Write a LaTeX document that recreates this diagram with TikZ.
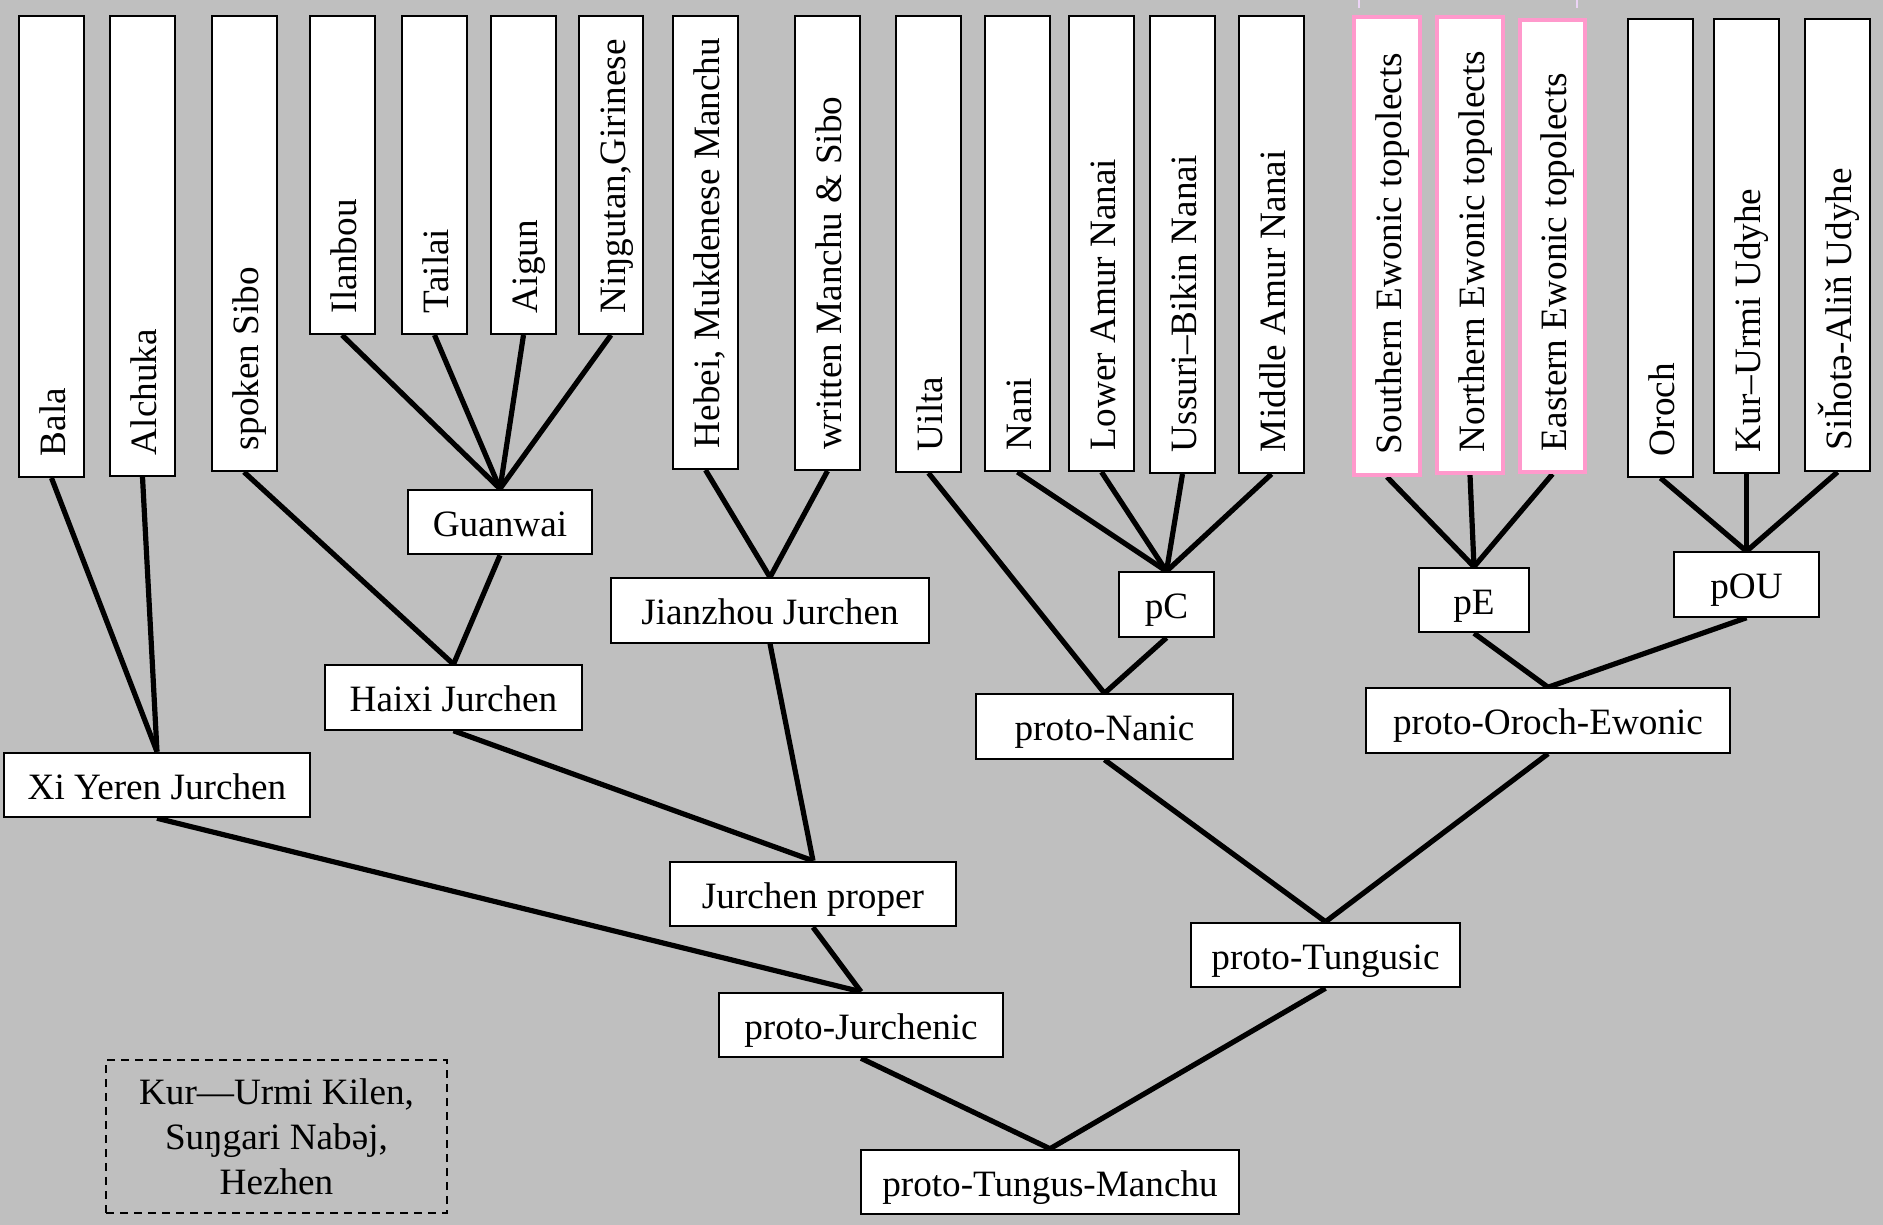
\documentclass[tikz,border=0pt]{standalone}
\usepackage{fontspec}
\setmainfont{Liberation Serif}
\usetikzlibrary{backgrounds}
\definecolor{bggray}{RGB}{191,191,191}
\definecolor{pinkb}{RGB}{255,153,204}
\definecolor{lav}{RGB}{236,212,246}
\begin{document}
\begin{tikzpicture}[x=0.5pt,y=-0.5pt,
  lbl/.style={font=\fontsize{18.6pt}{22.5pt}\selectfont},
  boxbase/.style={lbl, draw=black, line width=1pt, fill=white, inner sep=0pt,
    text height=17.4pt, text depth=3pt},
  hbox/.style={boxbase, minimum height=32.25pt},
  vbox/.style={boxbase, rotate=90, inner xsep=10.5pt, minimum height=32.5pt},
  pbox/.style={vbox, draw=pinkb, line width=2pt},
  link/.style={line width=2.6pt, black},
  legendbox/.style={lbl, draw=black, line width=1pt, dash pattern=on 4pt off 3pt,
    align=center, inner sep=0pt}
]
\useasboundingbox (0,0) rectangle (1883,1225);

% top row (rotated)
\node[vbox, minimum width=230.5pt] (bala)     at (51.5,246.5)  {\makebox[209.5pt][l]{Bala}};
\node[vbox, minimum width=230pt]   (alchuka)  at (142.5,246)   {\makebox[209pt][l]{Alchuka}};
\node[vbox, minimum width=227.5pt] (ssibo)    at (244,243.5)   {\makebox[206.5pt][l]{spoken Sibo}};
\node[vbox, minimum width=159pt]   (ilanbou)  at (342,175)     {\makebox[138pt][l]{Ilanbou}};
\node[vbox, minimum width=159pt]   (tailai)   at (434.5,175)   {\makebox[138pt][l]{Tailai}};
\node[vbox, minimum width=159pt]   (aigun)    at (523.5,175)   {\makebox[138pt][l]{Aigun}};
\node[vbox, minimum width=159pt, minimum height=32pt] (ningutan) at (611,175) {\makebox[138pt][l]{Niŋgutan,Girinese}};
\node[vbox, minimum width=226.5pt] (hebei)    at (705.5,242.5) {\makebox[205.5pt][l]{Hebei, Mukdenese Manchu}};
\node[vbox, minimum width=227pt]   (written)  at (827.5,243)   {\makebox[206pt][l]{written Manchu \& Sibo}};
\node[vbox, minimum width=228pt]   (uilta)    at (928.5,244)   {\makebox[207pt][l]{Uilta}};
\node[vbox, minimum width=227.5pt] (nani)     at (1017.5,243.5){\makebox[206.5pt][l]{Nani}};
\node[vbox, minimum width=227.5pt] (lamur)    at (1101.5,243.5){\makebox[206.5pt][l]{Lower Amur Nanai}};
\node[vbox, minimum width=228.5pt] (ussuri)   at (1182.5,244.5){\makebox[207.5pt][l]{Ussuri–Bikin Nanai}};
\node[vbox, minimum width=228.5pt] (mamur)    at (1271.5,244.5){\makebox[207.5pt][l]{Middle Amur Nanai}};
\node[pbox, minimum width=229pt, minimum height=33pt] (south) at (1387,246) {\makebox[208pt][l]{Southern Ewonic topolects}};
\node[pbox, minimum width=228pt, minimum height=33pt] (north) at (1470,245) {\makebox[207pt][l]{Northern Ewonic topolects}};
\node[pbox, minimum width=226pt]   (east)     at (1552.5,246)  {\makebox[205pt][l]{Eastern Ewonic topolects}};
\node[vbox, minimum width=229pt]   (oroch)    at (1660.5,248)  {\makebox[208pt][l]{Oroch}};
\node[vbox, minimum width=227pt]   (kur)      at (1746.5,246)  {\makebox[206pt][l]{Kur–Urmi Udyhe}};
\node[vbox, minimum width=226pt]   (siho)     at (1837.5,245)  {\makebox[205pt][l]{Siȟotə-Aliň Udyhe}};

% horizontal nodes
\node[hbox, minimum width=92pt]    (guanwai)  at (500,522)      {Guanwai};
\node[hbox, minimum width=128.5pt] (haixi)    at (453.5,697.5)  {Haixi Jurchen};
\node[hbox, minimum width=153pt]   (xiyeren)  at (157,785)      {Xi Yeren Jurchen};
\node[hbox, minimum width=159pt]   (jianzhou) at (770,610.5)    {Jianzhou Jurchen};
\node[hbox, minimum width=143pt]   (jproper)  at (813,894)      {Jurchen proper};
\node[hbox, minimum width=142pt]   (pjur)     at (861,1025)     {proto-Jurchenic};
\node[hbox, minimum width=189pt]   (ptm)      at (1050,1182)    {proto-Tungus-Manchu};
\node[hbox, minimum width=134.5pt] (ptung)    at (1325.5,955)   {proto-Tungusic};
\node[hbox, minimum width=47.5pt]  (pC)       at (1166.5,604.5) {pC};
\node[hbox, minimum width=128.5pt] (pnanic)   at (1104.5,726.5) {proto-Nanic};
\node[hbox, minimum width=55pt]    (pE)       at (1474,600)     {pE};
\node[hbox, minimum width=72.5pt]  (pOU)      at (1746.5,584.5) {pOU};
\node[hbox, minimum width=182pt]   (poe)      at (1548,720.5)   {proto-Oroch-Ewonic};

\node[legendbox, minimum width=170.5pt, minimum height=76.5pt] (legend) at (276.5,1136.5)
  {Kur—Urmi Kilen,\\Suŋgari Nabəj,\\Hezhen};

\begin{pgfonlayer}{background}
  \fill[bggray] (0,0) rectangle (1883,1225);
  \draw[lav, line width=1pt] (1359,-10) -- (1359,8);
  \draw[lav, line width=1pt] (1577,-10) -- (1577,8);
  % Jurchenic branch
  \draw[link] (bala.west) -- (xiyeren.north);
  \draw[link] (alchuka.west) -- (xiyeren.north);
  \draw[link] (ssibo.west) -- (haixi.north);
  \draw[link] (ilanbou.west) -- (guanwai.north);
  \draw[link] (tailai.west) -- (guanwai.north);
  \draw[link] (aigun.west) -- (guanwai.north);
  \draw[link] (ningutan.west) -- (guanwai.north);
  \draw[link] (guanwai.south) -- (haixi.north);
  \draw[link] (hebei.west) -- (jianzhou.north);
  \draw[link] (written.west) -- (jianzhou.north);
  \draw[link] (haixi.south) -- (jproper.north);
  \draw[link] (jianzhou.south) -- (jproper.north);
  \draw[link] (xiyeren.south) -- (pjur.north);
  \draw[link] (jproper.south) -- (pjur.north);
  \draw[link] (pjur.south) -- (ptm.north);
  \draw[link] (ptung.south) -- (ptm.north);
  % Nanic branch
  \draw[link] (uilta.west) -- (pnanic.north);
  \draw[link] (nani.west) -- (pC.north);
  \draw[link] (lamur.west) -- (pC.north);
  \draw[link] (ussuri.west) -- (pC.north);
  \draw[link] (mamur.west) -- (pC.north);
  \draw[link] (pC.south) -- (pnanic.north);
  \draw[link] (pnanic.south) -- (ptung.north);
  % Oroch-Ewonic branch
  \draw[link] (south.west) -- (pE.north);
  \draw[link] (north.west) -- (pE.north);
  \draw[link] (east.west) -- (pE.north);
  \draw[link] (oroch.west) -- (pOU.north);
  \draw[link] (kur.west) -- (pOU.north);
  \draw[link] (siho.west) -- (pOU.north);
  \draw[link] (pE.south) -- (poe.north);
  \draw[link] (pOU.south) -- (poe.north);
  \draw[link] (poe.south) -- (ptung.north);
\end{pgfonlayer}
\end{tikzpicture}
\end{document}
